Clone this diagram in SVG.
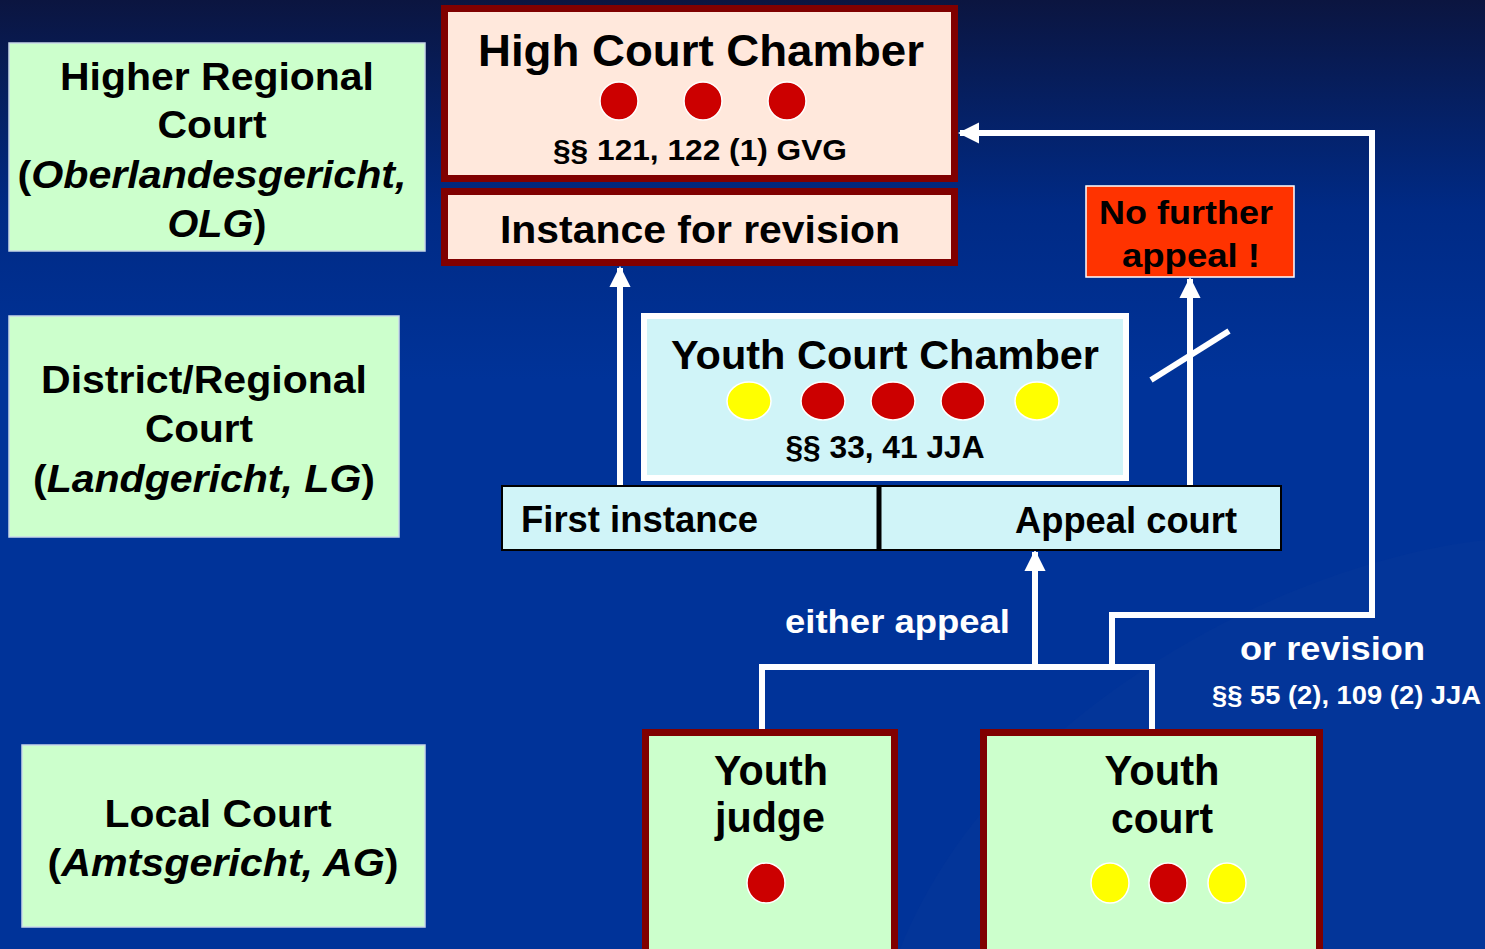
<svg xmlns="http://www.w3.org/2000/svg" width="1485" height="949" viewBox="0 0 1485 949">
<defs>
<linearGradient id="bg" x1="0" y1="0" x2="0" y2="1">
<stop offset="0" stop-color="#0b1540"/>
<stop offset="0.22" stop-color="#002a85"/>
<stop offset="0.4" stop-color="#003399"/>
<stop offset="1" stop-color="#003399"/>
</linearGradient>
<marker id="ah" viewBox="0 0 10 10" refX="9" refY="5" markerWidth="3.6" markerHeight="3.6" orient="auto" markerUnits="strokeWidth">
<path d="M0,0 L10,5 L0,10 Z" fill="#fff"/>
</marker>
</defs>
<style>
text{font-family:"Liberation Sans",Arial,sans-serif;font-weight:bold;fill:#000}
.lvl{fill:#ccffcc;stroke:#c8d8e8;stroke-width:1.5}
.red{fill:#800000}
.peach{fill:#ffe8dc}
.green{fill:#ccffcc}
.cyan{fill:#d0f4f8}
.dr{fill:#cc0000;stroke:#fff;stroke-width:1.5}
.dy{fill:#ffff00;stroke:#fff;stroke-width:1.5}
.w{fill:#fff}
.con{fill:none;stroke:#fff;stroke-width:6}
</style>
<rect width="1485" height="949" fill="url(#bg)"/>
<path d="M900,949 C1000,700 1300,560 1485,540 L1485,949 Z" fill="#0a3a9c" opacity="0.35"/>

<g id="level-olg">
<rect class="lvl" x="9" y="43" width="416" height="208"/>
<text x="217" y="90" font-size="38" text-anchor="middle" textLength="314" lengthAdjust="spacingAndGlyphs">Higher Regional</text>
<text x="212" y="138" font-size="38" text-anchor="middle" textLength="109" lengthAdjust="spacingAndGlyphs">Court</text>
<text x="212" y="188" font-size="38" text-anchor="middle" textLength="389" lengthAdjust="spacingAndGlyphs">(<tspan font-style="italic">Oberlandesgericht,</tspan></text>
<text x="217" y="237" font-size="38" text-anchor="middle" textLength="99" lengthAdjust="spacingAndGlyphs"><tspan font-style="italic">OLG</tspan>)</text>
</g>

<g id="level-lg">
<rect class="lvl" x="9" y="316" width="390" height="221"/>
<text x="204" y="393" font-size="38" text-anchor="middle" textLength="326" lengthAdjust="spacingAndGlyphs">District/Regional</text>
<text x="199" y="442" font-size="38" text-anchor="middle" textLength="108" lengthAdjust="spacingAndGlyphs">Court</text>
<text x="204" y="492" font-size="38" text-anchor="middle" textLength="342" lengthAdjust="spacingAndGlyphs">(<tspan font-style="italic">Landgericht, LG</tspan>)</text>
</g>

<g id="level-ag">
<rect class="lvl" x="22" y="745" width="403" height="182"/>
<text x="218" y="827" font-size="38" text-anchor="middle" textLength="227" lengthAdjust="spacingAndGlyphs">Local Court</text>
<text x="223" y="876" font-size="38" text-anchor="middle" textLength="351" lengthAdjust="spacingAndGlyphs">(<tspan font-style="italic">Amtsgericht, AG</tspan>)</text>
</g>

<g id="connectors">
<line class="con" x1="620" y1="485" x2="620" y2="268" marker-end="url(#ah)"/>
<line class="con" x1="1190" y1="485" x2="1190" y2="279" marker-end="url(#ah)"/>
<line x1="1151" y1="380" x2="1229" y2="331" stroke="#fff" stroke-width="6"/>
<polyline class="con" points="762,732 762,667 1152,667 1152,732"/>
<line class="con" x1="1035" y1="667" x2="1035" y2="552" marker-end="url(#ah)"/>
<polyline class="con" points="1112,665 1112,615 1372,615 1372,133 960,133" marker-end="url(#ah)"/>
</g>

<g id="high-court-chamber">
<rect class="red" x="441" y="5" width="517" height="177"/>
<rect class="peach" x="448" y="12" width="503" height="163"/>
<text x="701" y="66" font-size="44" text-anchor="middle" textLength="446" lengthAdjust="spacingAndGlyphs">High Court Chamber</text>
<circle class="dr" cx="619" cy="101" r="19"/>
<circle class="dr" cx="703" cy="101" r="19"/>
<circle class="dr" cx="787" cy="101" r="19"/>
<text x="700" y="160" font-size="30" text-anchor="middle" textLength="294" lengthAdjust="spacingAndGlyphs">§§ 121, 122 (1) GVG</text>
</g>

<g id="instance-for-revision">
<rect class="red" x="441" y="188" width="517" height="78"/>
<rect class="peach" x="448" y="195" width="503" height="64"/>
<text x="700" y="243" font-size="38" text-anchor="middle" textLength="400" lengthAdjust="spacingAndGlyphs">Instance for revision</text>
</g>

<g id="no-further-appeal">
<rect x="1086" y="186" width="208" height="91" fill="#ff3300" stroke="#fff" stroke-width="1.5"/>
<text x="1186" y="224" font-size="34" text-anchor="middle" textLength="174" lengthAdjust="spacingAndGlyphs">No further</text>
<text x="1191" y="267" font-size="34" text-anchor="middle" textLength="138" lengthAdjust="spacingAndGlyphs">appeal !</text>
</g>

<g id="youth-court-chamber">
<rect class="w" x="641" y="313" width="488" height="168"/>
<rect class="cyan" x="647" y="319" width="476" height="156"/>
<text x="885" y="369" font-size="40" text-anchor="middle" textLength="428" lengthAdjust="spacingAndGlyphs">Youth Court Chamber</text>
<ellipse class="dy" cx="749" cy="401" rx="22" ry="19"/>
<ellipse class="dr" cx="823" cy="401" rx="22" ry="19"/>
<ellipse class="dr" cx="893" cy="401" rx="22" ry="19"/>
<ellipse class="dr" cx="963" cy="401" rx="22" ry="19"/>
<ellipse class="dy" cx="1037" cy="401" rx="22" ry="19"/>
<text x="885" y="458" font-size="32" text-anchor="middle" textLength="199" lengthAdjust="spacingAndGlyphs">§§ 33, 41 JJA</text>
</g>

<g id="first-instance">
<rect class="cyan" x="502" y="486" width="376" height="64" stroke="#000" stroke-width="2"/>
<text x="521" y="532" font-size="36" textLength="237" lengthAdjust="spacingAndGlyphs">First instance</text>
</g>

<g id="appeal-court">
<rect class="cyan" x="880" y="486" width="401" height="64" stroke="#000" stroke-width="2"/>
<line x1="879" y1="486" x2="879" y2="550" stroke="#000" stroke-width="5"/>
<text x="1015" y="533" font-size="36" textLength="222" lengthAdjust="spacingAndGlyphs">Appeal court</text>
</g>

<g id="labels">
<text x="785" y="633" font-size="34" textLength="225" lengthAdjust="spacingAndGlyphs" style="fill:#fff">either appeal</text>
<text x="1240" y="660" font-size="34" textLength="185" lengthAdjust="spacingAndGlyphs" style="fill:#fff">or revision</text>
<text x="1212" y="704" font-size="26" textLength="269" lengthAdjust="spacingAndGlyphs" style="fill:#fff">§§ 55 (2), 109 (2) JJA</text>
</g>

<g id="youth-judge">
<rect class="red" x="642" y="729" width="256" height="230"/>
<rect class="green" x="649" y="736" width="242" height="220"/>
<text x="771" y="785" font-size="42" text-anchor="middle" textLength="114" lengthAdjust="spacingAndGlyphs">Youth</text>
<text x="770" y="832" font-size="42" text-anchor="middle" textLength="110" lengthAdjust="spacingAndGlyphs">judge</text>
<ellipse class="dr" cx="766" cy="883" rx="19" ry="20"/>
</g>

<g id="youth-court">
<rect class="red" x="980" y="729" width="343" height="230"/>
<rect class="green" x="987" y="736" width="329" height="220"/>
<text x="1162" y="785" font-size="42" text-anchor="middle" textLength="115" lengthAdjust="spacingAndGlyphs">Youth</text>
<text x="1162" y="833" font-size="42" text-anchor="middle" textLength="102" lengthAdjust="spacingAndGlyphs">court</text>
<ellipse class="dy" cx="1110" cy="883" rx="19" ry="20"/>
<ellipse class="dr" cx="1168" cy="883" rx="19" ry="20"/>
<ellipse class="dy" cx="1227" cy="883" rx="19" ry="20"/>
</g>
</svg>
